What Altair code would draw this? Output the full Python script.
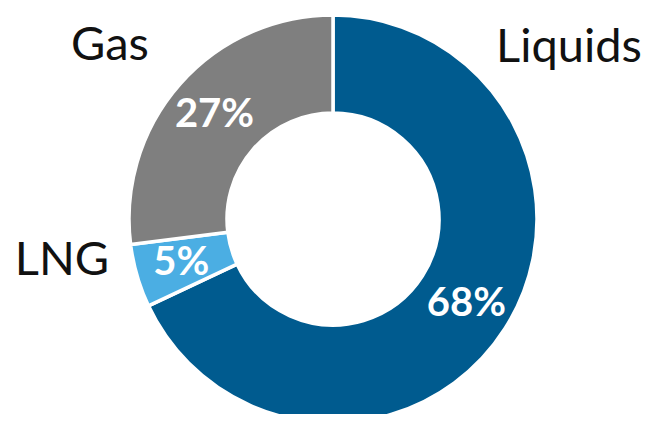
import altair as alt
import pandas as pd

categories = ["Liquids", "LNG", "Gas"]
shares = [68, 5, 27]
pct_labels = ["68%", "5%", "27%"]
order_idx = [0, 1, 2]
colors = ["#005B8F", "#4BAEE3", "#7F7F7F"]

df = pd.DataFrame({
    "category": categories,
    "share": shares,
    "label": pct_labels,
    "idx": order_idx,
})

CX, CY = 325, 211

base = alt.Chart(df).encode(
    theta=alt.Theta("share:Q", stack=True),
    order=alt.Order("idx:Q"),
    x=alt.value(CX),
    y=alt.value(CY),
)

arcs = base.mark_arc(outerRadius=204, innerRadius=106, stroke="white", strokeWidth=3.5).encode(
    color=alt.Color("category:N", scale=alt.Scale(domain=categories, range=colors), legend=None)
)

pcts = base.mark_text(radius=158, font="Lato", fontSize=40, fontWeight="bold",
                      color="white", baseline="middle", align="center").encode(
    text="label:N"
)

def cat_label(name, x, y):
    return alt.Chart(pd.DataFrame({"t": [name]})).mark_text(
        font="Lato", fontSize=47, color="#111111", baseline="alphabetic", align="center"
    ).encode(text="t:N", x=alt.value(x), y=alt.value(y))

labels = cat_label(categories[0], 561, 54) + cat_label(categories[1], 54, 267) + cat_label(categories[2], 102, 52)

chart = (arcs + pcts + labels).properties(
    width=633, height=406, padding=0, autosize="none", background="white"
).configure_view(stroke=None)

chart.save("out.html", embed_options={"renderer": "svg", "actions": False})
